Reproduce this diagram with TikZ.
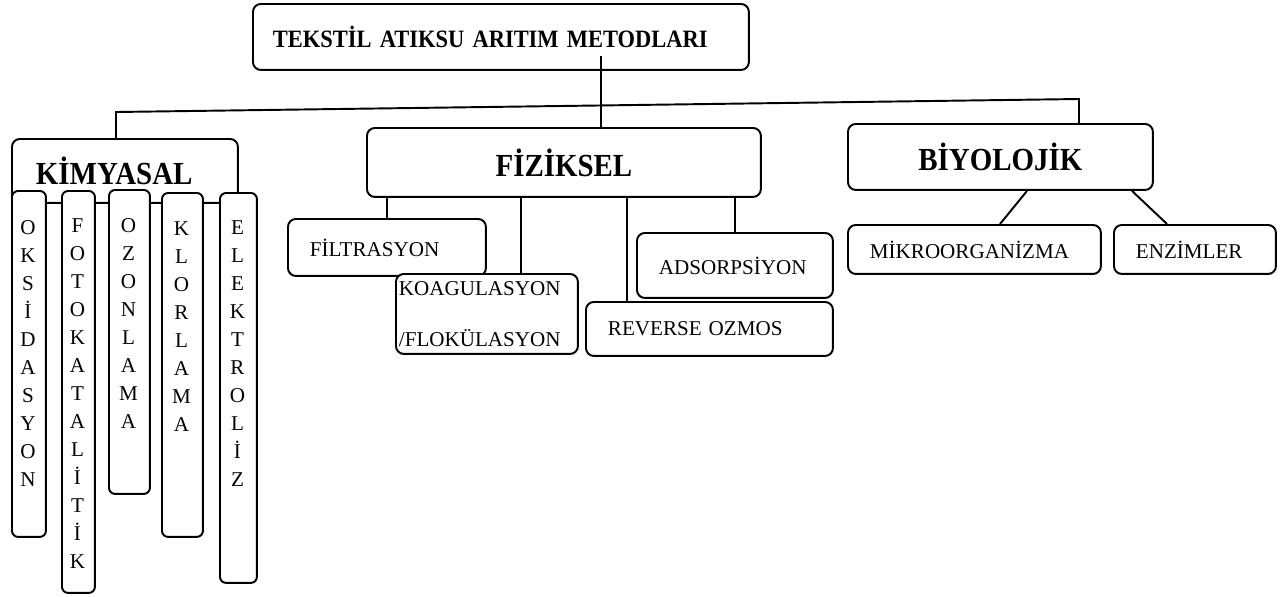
\documentclass[tikz,border=0pt]{standalone}
\usepackage{fontspec}
\setmainfont{Liberation Serif}[BoldFeatures={FakeStretch=0.9}]

\begin{document}
\begin{tikzpicture}[x=0.02cm, y=-0.02cm, line width=1.1pt,
  box/.style={draw, rounded corners=4.5pt, fill=white, inner sep=0pt, anchor=north west},
  head/.style={box, align=center, font=\fontsize{18.3}{22}\selectfont\bfseries},
  sub/.style={box, align=left, inner xsep=0.44cm, font=\fontsize{12}{14.4}\selectfont},
  col/.style={box, rounded corners=3.5pt},
  letters/.style={anchor=north, inner sep=0pt, align=center, font=\fontsize{12}{15.93}\selectfont},
  link/.style={draw=black, line width=1.1pt}
]
\useasboundingbox (0,0) rectangle (1284,596);
% main title
\node[box, align=left, inner xsep=0.4cm, text width=9.12cm, minimum height=1.32cm, font=\fontsize{14.2}{17}\selectfont\bfseries] (top) at (252,3) {TEKSTİL ATIKSU ARITIM METODLARI};
% chemical
\node[head, align=left, inner xsep=0.48cm, text width=3.56cm, minimum height=1.28cm] (kim) at (11,138) {KİMYASAL};
\node[col, minimum width=0.68cm, minimum height=6.92cm] (oks) at (11,190) {};
\node[letters] (oks-t) at (28,220) {O\\K\\S\\İ\\D\\A\\S\\Y\\O\\N};
\node[col, minimum width=0.66cm, minimum height=8.04cm] (foto) at (61,190) {};
\node[letters] (foto-t) at (77.5,218) {F\\O\\T\\O\\K\\A\\T\\A\\L\\İ\\T\\İ\\K};
\node[col, minimum width=0.82cm, minimum height=6.08cm] (ozon) at (108,189) {};
\node[letters] (ozon-t) at (128.5,218) {O\\Z\\O\\N\\L\\A\\M\\A};
\node[col, minimum width=0.82cm, minimum height=6.88cm] (klor) at (161,192) {};
\node[letters] (klor-t) at (181.5,221) {K\\L\\O\\R\\L\\A\\M\\A};
\node[col, minimum width=0.74cm, minimum height=7.8cm] (elek) at (219,192) {};
\node[letters] (elek-t) at (237.5,220) {E\\L\\E\\K\\T\\R\\O\\L\\İ\\Z};
% physical
\node[head, minimum width=7.88cm, minimum height=1.38cm] (fiz) at (366,127) {FİZİKSEL};
\node[sub, text width=3.08cm, minimum height=1.14cm] (filt) at (287,218) {FİLTRASYON};
\node[sub, inner xsep=0.06cm, text width=3.52cm, minimum height=1.6cm, font=\fontsize{12}{29}\selectfont] (koag) at (395,273) {KOAGULASYON\\/FLOKÜLASYON};
\node[sub, text width=3.04cm, minimum height=1.3cm] (ads) at (636,232) {ADSORPSİYON};
\node[sub, text width=4.06cm, minimum height=1.08cm] (rev) at (585,301) {REVERSE OZMOS};
% biological
\node[head, minimum width=6.1cm, minimum height=1.32cm] (biy) at (847,123) {BİYOLOJİK};
\node[sub, text width=4.18cm, minimum height=0.98cm] (mik) at (847,224) {MİKROORGANİZMA};
\node[sub, text width=2.36cm, minimum height=0.98cm] (enz) at (1113,224) {ENZİMLER};
% tree lines
\coordinate (hl) at (116,112);
\coordinate (hr) at (1079,99);
\coordinate (tb) at (601,56);
\draw[link] (kim.north -| hl) -- (hl) -- (hr) -- (biy.north -| hr);
\draw[link] (tb) -- (fiz.north -| tb);
\draw[link] (fiz.south -| filt.north) -- (filt.north);
\draw[link] (fiz.south -| 521,0) -- (koag.north -| 521,0);
\draw[link] (fiz.south -| 627,0) -- (rev.north -| 627,0);
\draw[link] (fiz.south -| ads.north) -- (ads.north);
\draw[link] (biy.south -| 1027,0) -- (mik.north -| 1000,0);
\draw[link] (biy.south -| 1132,0) -- (enz.north -| 1167,0);
\end{tikzpicture}
\end{document}
